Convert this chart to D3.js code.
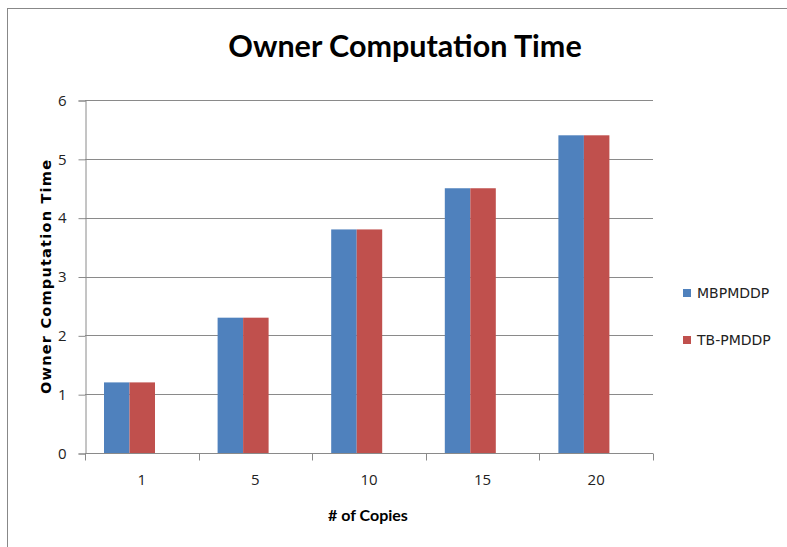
<!doctype html>
<html lang="en">
<head>
  <meta charset="utf-8" />
  <title>Owner Computation Time</title>
  <script src="https://cdn.jsdelivr.net/npm/d3@7"></script>
  <style>
    body { margin: 0; background: #fff; }
    .tick text { font-family: "Open Sans", sans-serif; font-size: 15px; fill: #222; }
  </style>
</head>
<body>
<script type="text/javascript">

  // data
  var copies = ["1", "5", "10", "15", "20"];
  var seriesNames = ["MBPMDDP", "TB-PMDDP"];
  var mbpmddp = [1.2, 2.3, 3.8, 4.5, 5.4];
  var tbpmddp = [1.2, 2.3, 3.8, 4.5, 5.4];
  var yTicks = [0, 1, 2, 3, 4, 5, 6];
  var colors = ["#4F81BD", "#C0504D"];

  var width = 787, height = 547;
  var plot = {left: 85, right: 653, top: 100, bottom: 453};

  var svg = d3.select("body").append("svg")
    .attr("width", width)
    .attr("height", height);

  // outer border of the chart frame
  svg.append("rect")
    .attr("x", 7.5).attr("y", 8.5)
    .attr("width", 800).attr("height", 560)
    .attr("fill", "none")
    .attr("stroke", "#888");

  var x = d3.scaleBand()
    .domain(copies)
    .range([plot.left, plot.right]);

  // bars sit a bit left of the category centre, like in the original
  var x1 = d3.scaleBand()
    .domain(seriesNames)
    .range([19, 70]);

  var y = d3.scaleLinear()
    .domain([0, 6])
    .range([plot.bottom, plot.top]);

  // gridlines
  svg.append("g")
    .selectAll("line")
    .data(yTicks.slice(1))
    .enter().append("line")
    .attr("x1", plot.left).attr("x2", plot.right)
    .attr("y1", function(d) { return Math.round(y(d)) + 0.5; })
    .attr("y2", function(d) { return Math.round(y(d)) + 0.5; })
    .attr("stroke", "#8a8a8a");

  var rows = copies.map(function(c, i) {
    return {c: c, vals: [mbpmddp[i], tbpmddp[i]]};
  });

  var groups = svg.append("g").selectAll("g")
    .data(rows)
    .enter().append("g")
    .attr("transform", function(d) { return "translate(" + x(d.c) + ",0)"; });

  groups.selectAll("rect")
    .data(function(d) { return d.vals.map(function(v, j) { return {s: seriesNames[j], v: v, j: j}; }); })
    .enter().append("rect")
    .attr("x", function(d) { return x1(d.s); })
    .attr("width", x1.bandwidth())
    .attr("y", function(d) { return y(d.v); })
    .attr("height", function(d) { return y(0) - y(d.v); })
    .attr("fill", function(d) { return colors[d.j]; });

  // y axis
  var yAxis = d3.axisLeft(y).tickValues(yTicks).tickSize(7).tickPadding(12).tickFormat(d3.format("d"));
  var gy = svg.append("g")
    .attr("transform", "translate(" + (plot.left + 0.5) + ",0.5)")
    .call(yAxis);
  gy.select(".domain").attr("stroke", "#8a8a8a");
  gy.selectAll(".tick line").attr("stroke", "#8a8a8a");

  // x axis, ticks between categories
  var xAxis = d3.axisBottom(x).tickSize(0).tickPadding(21);
  var gx = svg.append("g")
    .attr("transform", "translate(0," + (plot.bottom + 0.5) + ")")
    .call(xAxis);
  gx.select(".domain").remove();
  gx.append("line")
    .attr("x1", plot.left).attr("x2", plot.right)
    .attr("stroke", "#8a8a8a");
  gx.selectAll(".sep")
    .data(copies.concat(["end"]))
    .enter().append("line")
    .attr("class", "sep")
    .attr("x1", function(d, i) { return Math.round(i < copies.length ? x(d) : plot.right) + 0.5; })
    .attr("x2", function(d, i) { return Math.round(i < copies.length ? x(d) : plot.right) + 0.5; })
    .attr("y1", 0).attr("y2", 7)
    .attr("stroke", "#8a8a8a");

  // title
  svg.append("text")
    .attr("x", 405).attr("y", 57)
    .attr("text-anchor", "middle")
    .style("font-family", "Lato, sans-serif")
    .style("font-weight", "bold")
    .style("font-size", "30.5px")
    .text("Owner Computation Time");

  // axis titles
  svg.append("text")
    .attr("transform", "translate(51,277) rotate(-90)")
    .attr("text-anchor", "middle")
    .attr("textLength", 234)
    .attr("lengthAdjust", "spacing")
    .style("font-family", "DejaVu Sans, sans-serif")
    .style("font-weight", "bold")
    .style("font-size", "14.5px")
    .text("Owner Computation Time");

  svg.append("text")
    .attr("x", 368).attr("y", 521)
    .attr("text-anchor", "middle")
    .style("font-family", "Lato, sans-serif")
    .style("font-weight", "bold")
    .style("font-size", "16px")
    .text("# of Copies");

  // legend
  var legend = svg.append("g").selectAll("g")
    .data(seriesNames)
    .enter().append("g")
    .attr("transform", function(d, i) { return "translate(683," + (293 + i * 47) + ")"; });

  legend.append("rect")
    .attr("x", 0).attr("y", -4)
    .attr("width", 8).attr("height", 8)
    .attr("fill", function(d, i) { return colors[i]; });

  legend.append("text")
    .attr("x", 14).attr("y", 5)
    .style("font-family", "DejaVu Sans, sans-serif")
    .style("font-size", "14px")
    .attr("fill", "#222")
    .text(function(d) { return d; });

</script>
</body>
</html>
